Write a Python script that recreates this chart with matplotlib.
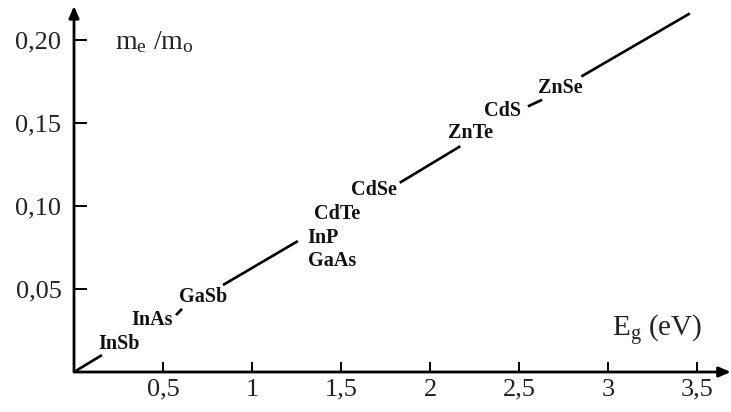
import matplotlib.pyplot as plt
import numpy as np

plt.rcParams['font.family'] = ['Liberation Serif', 'DejaVu Serif']
plt.rcParams['mathtext.fontset'] = 'custom'
plt.rcParams['mathtext.rm'] = 'Liberation Serif'
plt.rcParams['mathtext.it'] = 'Liberation Serif'

# line segments of m_e/m_o vs Eg (gaps left where the labels sit)
seg_x0 = [0.0, 0.573, 0.837, 1.83, 2.55, 2.85]
seg_x1 = [0.157, 0.607, 1.258, 2.17, 2.63, 3.46]
seg_y0 = [0.0, 0.0343, 0.0524, 0.114, 0.160, 0.178]
seg_y1 = [0.0102, 0.0380, 0.0789, 0.136, 0.164, 0.216]

# semiconductor labels (centre positions)
names = ["InSb", "InAs", "GaSb", "InP", "GaAs", "CdTe", "CdSe", "ZnTe", "CdS", "ZnSe"]
lab_x = [0.253, 0.438, 0.725, 1.40, 1.45, 1.48, 1.685, 2.225, 2.41, 2.73]
lab_y = [0.0169, 0.0313, 0.0452, 0.0807, 0.0669, 0.0952, 0.1096, 0.144, 0.157, 0.171]

xticks = [0.5, 1, 1.5, 2, 2.5, 3, 3.5]
xtick_labels = ["0,5", "1", "1,5", "2", "2,5", "3", "3,5"]
yticks = [0.05, 0.10, 0.15, 0.20]
ytick_labels = ["0,05", "0,10", "0,15", "0,20"]

fig = plt.figure(figsize=(7.31, 4.12), dpi=100)
ax = fig.add_axes([74 / 731, 40 / 412, 657 / 731, 372 / 412])
ax.set_xlim(0, 657 / 178)
ax.set_ylim(0, 372 / 1660)

for x0, x1, y0, y1 in zip(seg_x0, seg_x1, seg_y0, seg_y1):
    ax.plot([x0, x1], [y0, y1], color='black', lw=1.9, solid_capstyle='butt')

for n, x, y in zip(names, lab_x, lab_y):
    ax.text(x, y, n, ha='center', va='center', fontsize=14.5, fontweight='bold', color='#111')

for s in ax.spines.values():
    s.set_visible(False)

# axes with arrows
ax.annotate('', xy=(3.69, 0), xytext=(0, 0), annotation_clip=False,
            arrowprops=dict(arrowstyle='-|>,head_length=0.7,head_width=0.3', lw=2, color='black',
                            shrinkA=0, shrinkB=0))
ax.annotate('', xy=(0, 0.2205), xytext=(0, 0), annotation_clip=False,
            arrowprops=dict(arrowstyle='-|>,head_length=0.7,head_width=0.3', lw=2, color='black',
                            shrinkA=0, shrinkB=0))

ax.set_xticks(xticks)
ax.set_xticklabels(xtick_labels)
ax.set_yticks(yticks)
ax.set_yticklabels(ytick_labels)
ax.tick_params(axis='x', direction='in', length=7, width=1.4, pad=5, labelsize=19, labelcolor='#222')
ax.tick_params(axis='y', direction='in', length=9, width=1.4, pad=9, labelsize=19, labelcolor='#222')

ax.text(0.23, 0.199, r'm$_\mathregular{e}$ /m$_\mathregular{o}$', fontsize=20, color='#222', va='center')
ax.text(3.02, 0.025, r'E$_\mathregular{g}$ (eV)', fontsize=21, color='#222', va='center')

fig.savefig('out.png', dpi=100)
